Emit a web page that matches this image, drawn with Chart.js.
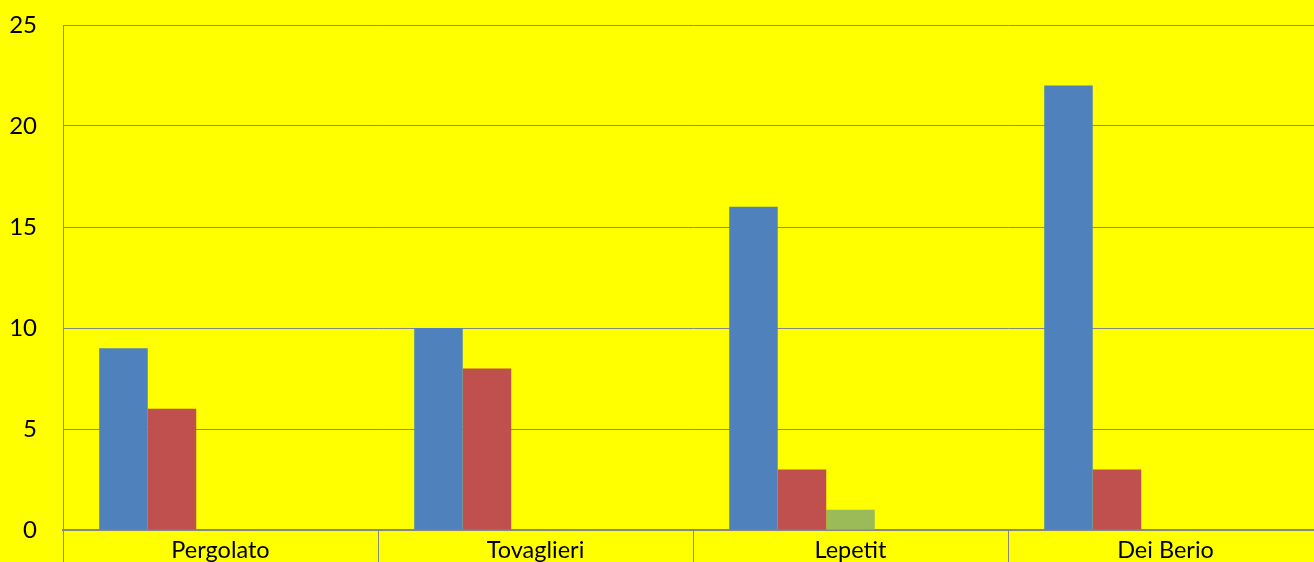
<!DOCTYPE html>
<html>
<head>
<meta charset="utf-8">
<script src="https://cdn.jsdelivr.net/npm/chart.js@4/dist/chart.umd.min.js"></script>
<style>
    html, body { margin: 0; padding: 0; background: #ffff00; overflow: hidden; }
    #wrap { position: absolute; left: 0; top: 0; width: 1323px; height: 562px; }
</style>
</head>
<body>
<div id="wrap"><canvas id="barChart"></canvas></div>
<script>
var categories = ["Pergolato", "Tovaglieri", "Lepetit", "Dei Berio"];
var series1 = [9, 10, 16, 22];
var series2 = [6, 8, 3, 3];
var series3 = [0, 0, 1, 0];
var series4 = [0, 0, 0, 0];
var series5 = [0, 0, 0, 0];
var yTicks = [0, 5, 10, 15, 20, 25];

var gridColor = "#868686";
var fontFamily = "Lato, 'Liberation Sans', sans-serif";

var ctx = document.getElementById("barChart");
var myChart = new Chart(ctx, {
    type: 'bar',
    data: {
        labels: categories,
        datasets: [
            { label: "1", data: series1, backgroundColor: "#4F81BD" },
            { label: "2", data: series2, backgroundColor: "#C0504D" },
            { label: "3", data: series3, backgroundColor: "#9BBB59" },
            { label: "4", data: series4, backgroundColor: "#8064A2" },
            { label: "5", data: series5, backgroundColor: "#4BACC6" }
        ]
    },
    options: {
        responsive: true,
        maintainAspectRatio: false,
        animation: false,
        categoryPercentage: 0.77,
        barPercentage: 1.0,
        layout: { padding: { top: 25, right: 0, left: 0, bottom: 0 } },
        plugins: {
            legend: { display: false },
            tooltip: { enabled: false }
        },
        scales: {
            x: {
                grid: {
                    color: gridColor,
                    drawOnChartArea: false,
                    drawTicks: true,
                    tickLength: 40,
                    offset: true
                },
                border: { color: gridColor, width: 2 },
                ticks: {
                    color: "#000",
                    padding: -34,
                    font: { family: fontFamily, size: 23.5 },
                    maxRotation: 0
                },
                afterFit: function (axis) { axis.height = 32; }
            },
            y: {
                min: 0,
                max: 25,
                afterBuildTicks: function (axis) {
                    axis.ticks = yTicks.map(function (v) { return { value: v }; });
                },
                grid: { color: gridColor, drawTicks: true, tickLength: 26, tickColor: "rgba(0,0,0,0)" },
                border: { color: gridColor, width: 1 },
                ticks: {
                    color: "#000",
                    padding: 0,
                    font: { family: fontFamily, size: 24 }
                },
                afterFit: function (axis) { axis.width = 63; }
            }
        }
    }
});
</script>
</body>
</html>
